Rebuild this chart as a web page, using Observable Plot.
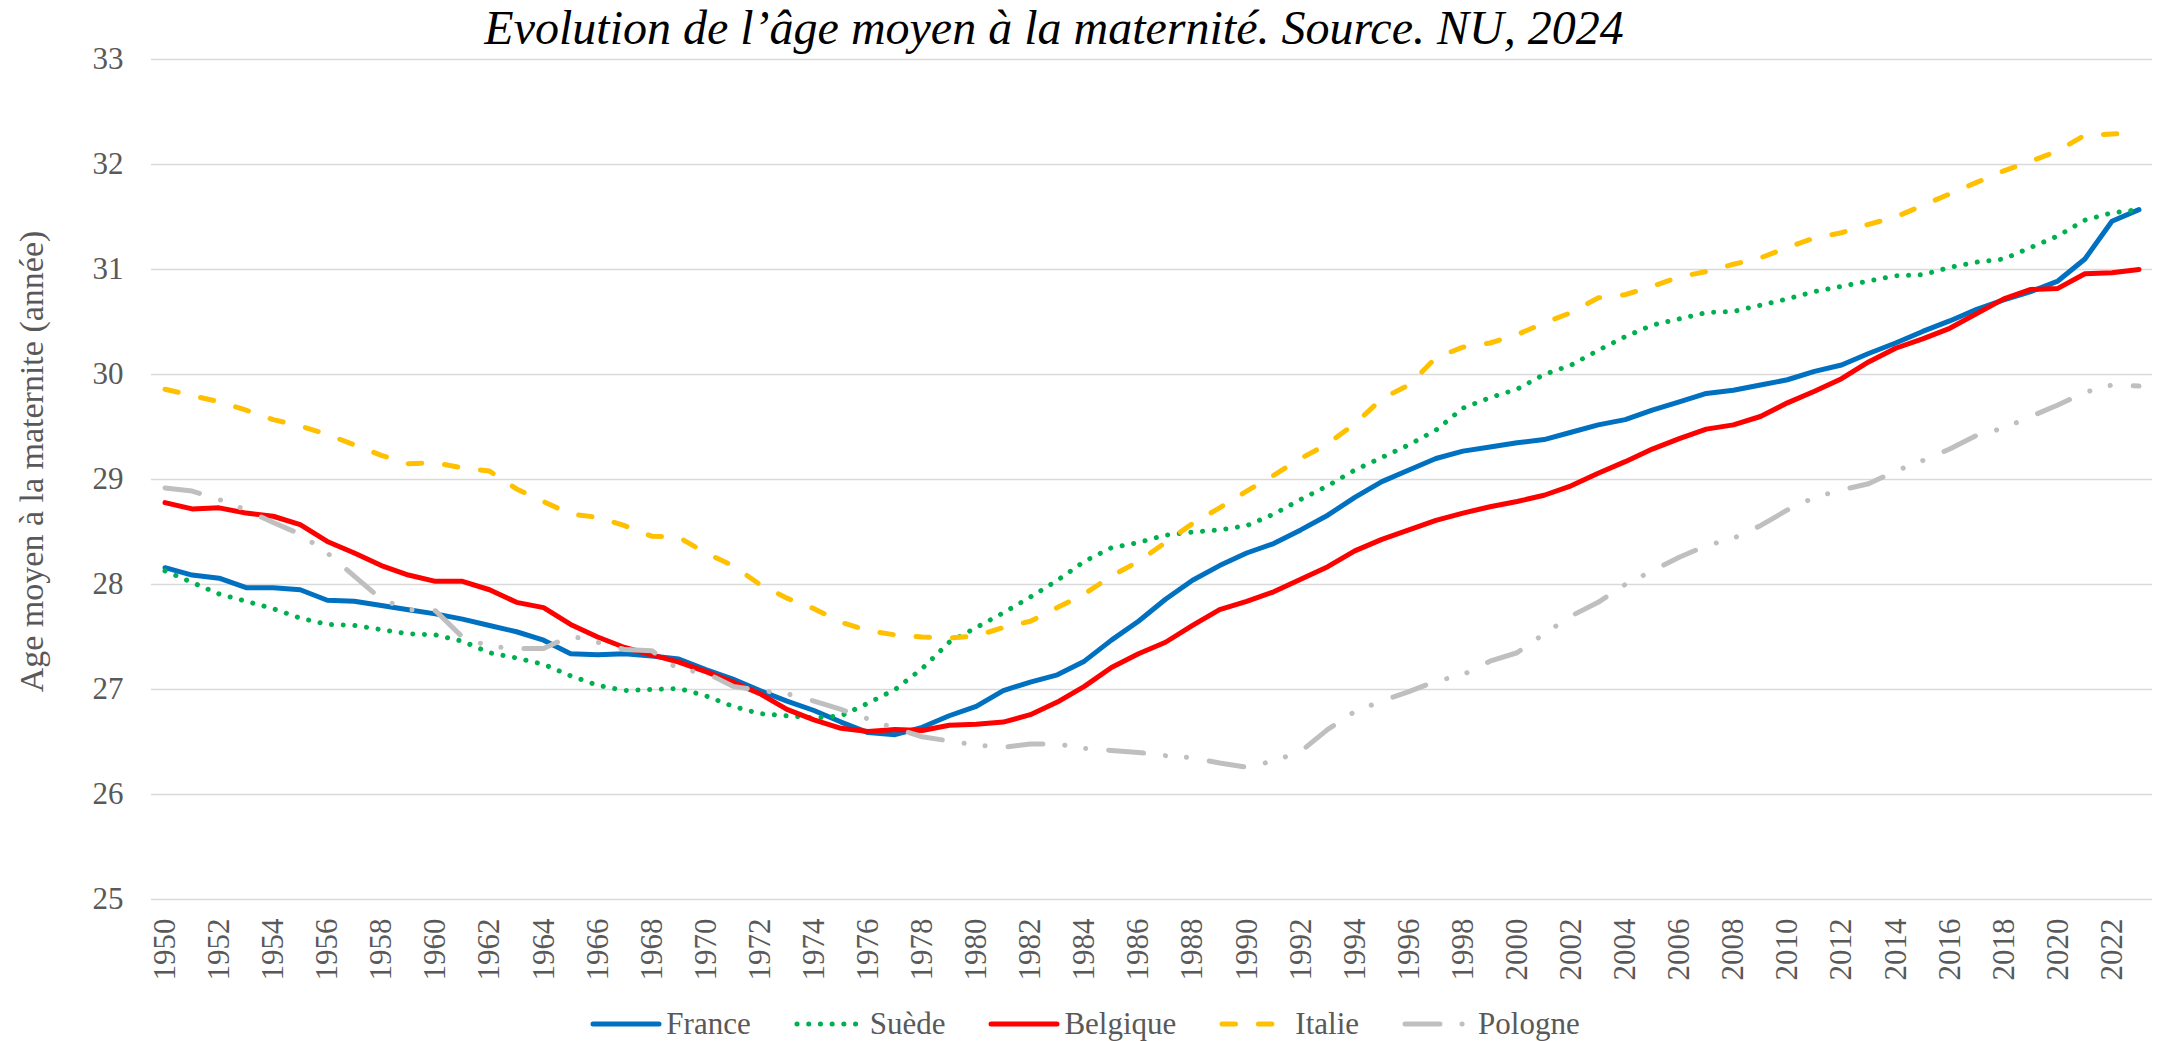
<!DOCTYPE html>
<html>
<head>
<meta charset="utf-8">
<script src="https://cdn.jsdelivr.net/npm/d3@7"></script>
<script src="https://cdn.jsdelivr.net/npm/@observablehq/plot@0.6"></script>
<style>
  html, body { margin: 0; padding: 0; background: #fff; overflow: hidden; }
  #wrap { width: 2158px; font-family: "Liberation Serif", "Times New Roman", serif; }
  #title { width: 2108px; height: 50px; line-height: 56px; text-align: center; font-style: italic; font-size: 48px; color: #000; white-space: nowrap; overflow: visible; }
  #chart { height: 940px; }
  #legend { height: 51px; display: flex; align-items: center; justify-content: center; position: relative; top: 8px; padding-left: 12px; box-sizing: border-box; font-size: 31px; color: #595959; }
  .item { display: flex; align-items: center; margin: 0 21.5px; }
  .item svg { display: block; }
  .item span { margin-left: 4px; line-height: 1; }
</style>
</head>
<body>
<div id="wrap">
  <div id="title">Evolution de l’âge moyen à la maternité. Source. NU, 2024</div>
  <div id="chart"></div>
  <div id="legend"></div>
</div>
<script>
const years = [
  1950,1951,1952,1953,1954,1955,1956,1957,1958,1959,
  1960,1961,1962,1963,1964,1965,1966,1967,1968,1969,
  1970,1971,1972,1973,1974,1975,1976,1977,1978,1979,
  1980,1981,1982,1983,1984,1985,1986,1987,1988,1989,
  1990,1991,1992,1993,1994,1995,1996,1997,1998,1999,
  2000,2001,2002,2003,2004,2005,2006,2007,2008,2009,
  2010,2011,2012,2013,2014,2015,2016,2017,2018,2019,
  2020,2021,2022,2023
];

const france = [
  28.16,28.09,28.06,27.97,27.97,27.95,27.85,27.84,27.80,27.76,
  27.72,27.67,27.61,27.55,27.47,27.34,27.33,27.34,27.32,27.29,
  27.19,27.10,26.99,26.89,26.80,26.69,26.59,26.57,26.64,26.75,
  26.84,26.99,27.07,27.14,27.27,27.47,27.65,27.86,28.04,28.18,
  28.30,28.39,28.52,28.66,28.83,28.98,29.09,29.20,29.27,29.31,
  29.35,29.38,29.45,29.52,29.57,29.66,29.74,29.82,29.85,29.90,
  29.95,30.03,30.09,30.20,30.30,30.41,30.51,30.62,30.71,30.79,
  30.89,31.10,31.46,31.57
];

const suede = [
  28.13,28.02,27.91,27.84,27.77,27.68,27.62,27.61,27.57,27.53,
  27.52,27.46,27.35,27.30,27.24,27.13,27.04,26.99,27.00,27.01,
  26.94,26.84,26.77,26.75,26.73,26.75,26.87,27.00,27.20,27.45,
  27.59,27.73,27.88,28.04,28.22,28.35,28.40,28.47,28.50,28.52,
  28.56,28.67,28.81,28.94,29.09,29.21,29.33,29.47,29.68,29.78,
  29.86,30.00,30.09,30.23,30.36,30.47,30.53,30.59,30.60,30.66,
  30.72,30.79,30.84,30.89,30.94,30.95,31.02,31.07,31.10,31.21,
  31.32,31.47,31.54,31.57
];

const belgique = [
  28.78,28.72,28.73,28.68,28.65,28.57,28.41,28.30,28.18,28.09,
  28.03,28.03,27.95,27.83,27.78,27.62,27.50,27.40,27.33,27.26,
  27.17,27.07,26.96,26.81,26.71,26.63,26.60,26.62,26.61,26.66,
  26.67,26.69,26.76,26.88,27.03,27.21,27.34,27.45,27.61,27.76,
  27.84,27.93,28.05,28.17,28.32,28.43,28.52,28.61,28.68,28.74,
  28.79,28.85,28.94,29.06,29.17,29.29,29.39,29.48,29.52,29.60,
  29.73,29.84,29.96,30.12,30.25,30.34,30.44,30.58,30.72,30.81,
  30.82,30.96,30.97,31.00
];

const italie = [
  29.86,29.80,29.74,29.66,29.57,29.51,29.43,29.33,29.23,29.15,
  29.16,29.11,29.08,28.91,28.79,28.67,28.64,28.56,28.46,28.45,
  28.30,28.18,28.00,27.87,27.77,27.64,27.56,27.52,27.50,27.49,
  27.51,27.59,27.65,27.78,27.91,28.08,28.22,28.40,28.58,28.73,
  28.89,29.04,29.20,29.34,29.53,29.77,29.90,30.16,30.26,30.30,
  30.38,30.49,30.59,30.73,30.76,30.84,30.93,30.98,31.05,31.11,
  31.21,31.30,31.35,31.43,31.50,31.61,31.72,31.83,31.94,32.03,
  32.13,32.28,32.29,32.30
];

const pologne = [
  28.92,28.89,28.81,28.71,28.59,28.48,28.30,28.08,27.86,27.76,
  27.75,27.50,27.41,27.39,27.39,27.51,27.45,27.38,27.37,27.19,
  27.16,27.03,26.99,26.96,26.89,26.81,26.72,26.63,26.55,26.51,
  26.47,26.45,26.48,26.48,26.44,26.42,26.40,26.37,26.35,26.30,
  26.26,26.32,26.41,26.62,26.79,26.89,26.98,27.08,27.14,27.27,
  27.35,27.53,27.70,27.83,28.00,28.13,28.26,28.37,28.44,28.56,
  28.71,28.83,28.90,28.96,29.08,29.18,29.29,29.42,29.49,29.60,
  29.71,29.83,29.90,29.89
];

const xTicks = [1950,1952,1954,1956,1958,1960,1962,1964,1966,1968,1970,1972,1974,1976,1978,1980,1982,1984,1986,1988,1990,1992,1994,1996,1998,2000,2002,2004,2006,2008,2010,2012,2014,2016,2018,2020,2022];
const yTicks = [25,26,27,28,29,30,31,32,33];
const yLabel = "Age moyen à la maternite (année)";

const seriesNames = ["France", "Suède", "Belgique", "Italie", "Pologne"];
const seriesValues = [france, suede, belgique, italie, pologne];
const seriesColors = ["#0070C0", "#00B050", "#FF0000", "#FFC000", "#BFBFBF"];
const seriesDash = [null, "0.1 11.6", null, "13.5 22.9", "35 22 0.1 21 0.1 23"];
const lineWidth = 5;

const lineMarks = seriesValues.map((vals, i) =>
  Plot.line(vals, {
    x: years,
    y: d => d,
    stroke: seriesColors[i],
    strokeWidth: lineWidth,
    strokeDasharray: seriesDash[i] || undefined,
    strokeLinecap: "round",
    strokeLinejoin: "round",
    curve: "linear"
  })
);

const chart = Plot.plot({
  width: 2158,
  height: 940,
  marginTop: 9,
  marginBottom: 91,
  marginLeft: 151,
  marginRight: 6,
  style: {
    fontFamily: "'Liberation Serif', 'Times New Roman', serif",
    fontSize: "31px",
    color: "#595959",
    background: "white",
    overflow: "visible"
  },
  x: { domain: [1949.5, 2023.5] },
  y: { domain: [25, 33] },
  marks: [
    Plot.gridY(yTicks, { stroke: "#D9D9D9", strokeOpacity: 1, strokeWidth: 1.6 }),
    Plot.axisY(yTicks, { tickSize: 0, tickPadding: 28, label: null, fontSize: 31, tickFormat: d => String(d) }),
    Plot.axisX(xTicks, { tickSize: 0, tickPadding: 19, tickRotate: -90, label: null, fontSize: 31, tickFormat: d => String(d) }),
    Plot.text([yLabel], { text: d => d, frameAnchor: "left", textAnchor: "middle", rotate: -90, dx: -119, dy: -18, fontSize: 34, fill: "#595959" }),
    ...lineMarks
  ]
});
document.getElementById("chart").appendChild(chart);

// Legend
const legend = document.getElementById("legend");
const svgNS = "http://www.w3.org/2000/svg";
seriesNames.forEach((name, i) => {
  const item = document.createElement("div");
  item.className = "item";
  const svg = document.createElementNS(svgNS, "svg");
  svg.setAttribute("width", "72");
  svg.setAttribute("height", "12");
  const ln = document.createElementNS(svgNS, "line");
  ln.setAttribute("x1", "3"); ln.setAttribute("x2", "69");
  ln.setAttribute("y1", "6"); ln.setAttribute("y2", "6");
  ln.setAttribute("stroke", seriesColors[i]);
  ln.setAttribute("stroke-width", lineWidth);
  ln.setAttribute("stroke-linecap", "round");
  if (seriesDash[i]) ln.setAttribute("stroke-dasharray", seriesDash[i]);
  svg.appendChild(ln);
  const span = document.createElement("span");
  span.textContent = name;
  item.appendChild(svg);
  item.appendChild(span);
  legend.appendChild(item);
});
</script>
</body>
</html>
